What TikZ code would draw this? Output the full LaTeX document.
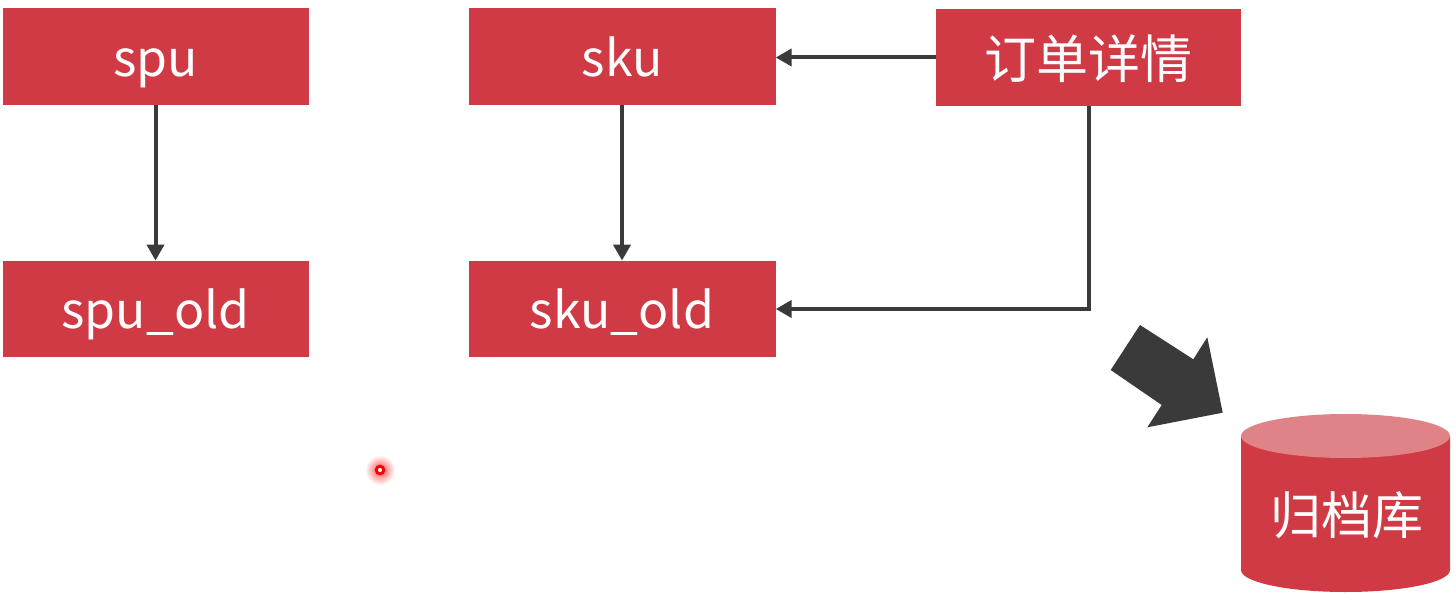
\documentclass[tikz,border=0pt]{standalone}
\usepackage{fontspec}
\setmainfont{Noto Sans CJK SC}
\usetikzlibrary{arrows.meta}
\definecolor{boxred}{HTML}{CF3A44}
\definecolor{toppink}{HTML}{E08387}
\definecolor{darkline}{HTML}{3A3A3A}
\tikzset{
  redbox/.style={fill=boxred,draw=none,minimum width=306pt,inner sep=0pt,text=white,font=\fontsize{50}{60}\selectfont,text height=68pt,text depth=28.5pt,anchor=center},
  conn/.style={draw=darkline,line width=4pt,-{Triangle[length=16pt,width=17pt]}},
}
\begin{document}
\begin{tikzpicture}[x=1pt,y=-1pt]
\useasboundingbox (0,0) rectangle (1456,594);
\fill[white] (0,0) rectangle (1456,594);
\node[redbox] (spu) at (155.5,56.5) {spu};
\node[redbox] (spuold) at (155.5,309) {spu\_old};
\node[redbox,minimum width=307pt] (sku) at (622,56.5) {sku};
\node[redbox,minimum width=307pt] (skuold) at (622,309) {sku\_old};
\node[redbox,minimum width=305pt,text height=69pt,text depth=27.5pt,font=\fontsize{52}{60}\selectfont] (detail) at (1088.5,57.5) {订单详情};
\coordinate (skuport) at (sku.east |- detail.west);
\draw[conn] (spu) -- (spuold);
\draw[conn] (sku) -- (skuold);
\draw[conn] (detail.west) -- (skuport);
\draw[conn] (detail.south) |- (skuold.east);
% fat arrow
\fill[darkline] (1140,325) -- (1193.3,359.3) -- (1207.3,337.3) -- (1222.7,412.7) -- (1147.3,427.3) -- (1161.7,405) -- (1110.7,370) -- cycle;
% cylinder
\fill[boxred] (1241,436) -- (1241,570) arc[start angle=180,end angle=360,x radius=104.5pt,y radius=22pt] -- (1450,436) -- cycle;
\fill[toppink] (1345.5,436) ellipse[x radius=104.5pt,y radius=22pt];
\node[text=white,font=\fontsize{51}{60}\selectfont,inner sep=0pt] (archive) at (1346.5,515) {归档库};
% laser pointer
\shade[inner color=red!70,outer color=white] (380,470) circle[radius=15pt];
\fill[white] (380,470) circle[radius=4pt];
\draw[red,line width=3pt] (380,470) circle[radius=3.8pt];
\end{tikzpicture}
\end{document}
